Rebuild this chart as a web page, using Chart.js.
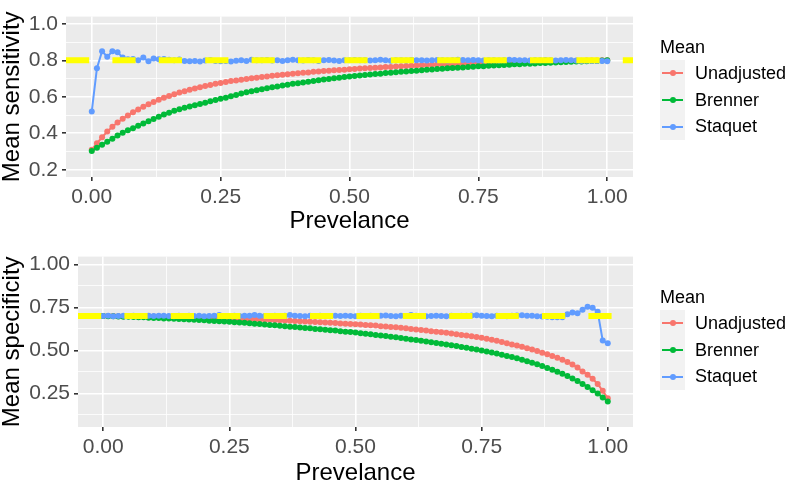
<!DOCTYPE html>
<html>
<head>
<meta charset="utf-8">
<script src="https://cdn.jsdelivr.net/npm/chart.js@4/dist/chart.umd.min.js"></script>
<style>
  html, body { margin: 0; padding: 0; background: #fff; overflow: hidden; }
  #wrap { position: relative; width: 787px; height: 482px; overflow: hidden; font-family: "Liberation Sans", Arial, sans-serif; }
  canvas { position: absolute; left: 0; }
  .legend { position: absolute; left: 660px; }
  .legend .title { font-size: 18px; color: #000; height: 26px; line-height: 26px; }
  .legend .row { position: relative; height: 26.7px; }
  .legend .key { position: absolute; left: 0; top: 0; width: 25px; height: 26.7px; background: #F2F2F2; }
  .legend .key .ln { position: absolute; left: 2px; width: 21px; top: 12.4px; height: 2px; }
  .legend .key .dt { position: absolute; left: 9.5px; top: 10.4px; width: 6px; height: 6px; border-radius: 50%; }
  .legend .lab { position: absolute; left: 35px; top: 0; height: 26.7px; line-height: 26.7px; font-size: 18px; color: #000; white-space: nowrap; }
</style>
</head>
<body>
<div id="wrap">
  <canvas id="sens" width="787" height="240" style="top:0"></canvas>
  <canvas id="spec" width="787" height="260" style="top:240px"></canvas>
  <div class="legend" id="legSens" style="top:34px"></div>
  <div class="legend" id="legSpec" style="top:284px"></div>
</div>
<script>
// prevalence grid (x values)
const PREVALENCE = [
  0.00, 0.01, 0.02, 0.03, 0.04, 0.05, 0.06, 0.07, 0.08, 0.09,
  0.10, 0.11, 0.12, 0.13, 0.14, 0.15, 0.16, 0.17, 0.18, 0.19,
  0.20, 0.21, 0.22, 0.23, 0.24, 0.25, 0.26, 0.27, 0.28, 0.29,
  0.30, 0.31, 0.32, 0.33, 0.34, 0.35, 0.36, 0.37, 0.38, 0.39,
  0.40, 0.41, 0.42, 0.43, 0.44, 0.45, 0.46, 0.47, 0.48, 0.49,
  0.50, 0.51, 0.52, 0.53, 0.54, 0.55, 0.56, 0.57, 0.58, 0.59,
  0.60, 0.61, 0.62, 0.63, 0.64, 0.65, 0.66, 0.67, 0.68, 0.69,
  0.70, 0.71, 0.72, 0.73, 0.74, 0.75, 0.76, 0.77, 0.78, 0.79,
  0.80, 0.81, 0.82, 0.83, 0.84, 0.85, 0.86, 0.87, 0.88, 0.89,
  0.90, 0.91, 0.92, 0.93, 0.94, 0.95, 0.96, 0.97, 0.98, 0.99,
  1.00
];

// mean sensitivity
const SENS_UNADJUSTED = [
  0.310, 0.345, 0.378, 0.409, 0.436, 0.459, 0.479, 0.498, 0.515, 0.531,
  0.545, 0.559, 0.572, 0.584, 0.595, 0.605, 0.614, 0.623, 0.631, 0.639,
  0.646, 0.653, 0.659, 0.665, 0.671, 0.676, 0.681, 0.686, 0.690, 0.694,
  0.698, 0.702, 0.705, 0.709, 0.712, 0.715, 0.718, 0.721, 0.724, 0.727,
  0.729, 0.732, 0.734, 0.737, 0.739, 0.741, 0.743, 0.745, 0.747, 0.749,
  0.751, 0.753, 0.755, 0.756, 0.758, 0.760, 0.761, 0.763, 0.764, 0.766,
  0.767, 0.769, 0.770, 0.772, 0.773, 0.774, 0.776, 0.777, 0.778, 0.779,
  0.780, 0.781, 0.782, 0.783, 0.784, 0.785, 0.786, 0.787, 0.788, 0.789,
  0.790, 0.790, 0.791, 0.792, 0.793, 0.793, 0.794, 0.795, 0.795, 0.796,
  0.796, 0.797, 0.797, 0.798, 0.798, 0.798, 0.799, 0.799, 0.799, 0.800,
  0.800
];
const SENS_BRENNER = [
  0.303, 0.320, 0.337, 0.354, 0.370, 0.387, 0.403, 0.416, 0.428, 0.441,
  0.453, 0.466, 0.478, 0.490, 0.503, 0.513, 0.523, 0.532, 0.540, 0.547,
  0.554, 0.561, 0.568, 0.575, 0.582, 0.589, 0.595, 0.603, 0.610, 0.618,
  0.625, 0.631, 0.636, 0.642, 0.647, 0.652, 0.657, 0.662, 0.666, 0.671,
  0.675, 0.679, 0.683, 0.687, 0.691, 0.695, 0.698, 0.702, 0.705, 0.708,
  0.711, 0.714, 0.717, 0.720, 0.722, 0.725, 0.727, 0.730, 0.732, 0.735,
  0.737, 0.739, 0.741, 0.743, 0.746, 0.748, 0.750, 0.752, 0.754, 0.756,
  0.758, 0.760, 0.761, 0.763, 0.765, 0.767, 0.768, 0.770, 0.772, 0.773,
  0.775, 0.776, 0.778, 0.779, 0.781, 0.782, 0.783, 0.785, 0.786, 0.787,
  0.788, 0.789, 0.791, 0.792, 0.793, 0.794, 0.795, 0.796, 0.797, 0.799,
  0.800
];
const SENS_STAQUET = [
  0.520, 0.757, 0.850, 0.820, 0.850, 0.845, 0.815, 0.806, 0.808, 0.800,
  0.815, 0.795, 0.810, 0.806, 0.808, 0.803, 0.800, 0.804, 0.797, 0.795,
  0.796, 0.794, 0.799, 0.802, 0.797, 0.795, 0.796, 0.794, 0.798, 0.800,
  0.797, 0.803, 0.801, 0.800, 0.802, 0.799, 0.801, 0.796, 0.800, 0.803,
  0.801, 0.799, 0.802, 0.800, 0.797, 0.800, 0.802, 0.799, 0.797, 0.801,
  0.800, 0.802, 0.801, 0.800, 0.799, 0.801, 0.803, 0.800, 0.798, 0.801,
  0.800, 0.799, 0.802, 0.800, 0.801, 0.799, 0.800, 0.802, 0.800, 0.799,
  0.801, 0.803, 0.802, 0.801, 0.802, 0.800, 0.799, 0.801, 0.800, 0.799,
  0.801, 0.803, 0.802, 0.801, 0.800, 0.799, 0.800, 0.801, 0.802, 0.801,
  0.799, 0.800, 0.802, 0.801, 0.799, 0.797, 0.798, 0.797, 0.796, 0.797,
  0.795
];

// mean specificity
const SPEC_UNADJUSTED = [
  0.700, 0.700, 0.700, 0.699, 0.699, 0.699, 0.698, 0.698, 0.698, 0.697,
  0.697, 0.696, 0.695, 0.695, 0.694, 0.693, 0.692, 0.691, 0.691, 0.690,
  0.689, 0.688, 0.687, 0.687, 0.686, 0.685, 0.684, 0.684, 0.683, 0.682,
  0.681, 0.680, 0.679, 0.678, 0.677, 0.675, 0.674, 0.672, 0.671, 0.669,
  0.668, 0.667, 0.665, 0.664, 0.662, 0.660, 0.659, 0.657, 0.655, 0.654,
  0.652, 0.650, 0.648, 0.646, 0.644, 0.641, 0.639, 0.636, 0.634, 0.631,
  0.628, 0.625, 0.622, 0.619, 0.616, 0.612, 0.609, 0.606, 0.602, 0.598,
  0.594, 0.590, 0.586, 0.582, 0.578, 0.574, 0.568, 0.562, 0.556, 0.549,
  0.542, 0.535, 0.528, 0.521, 0.513, 0.505, 0.496, 0.487, 0.478, 0.468,
  0.458, 0.446, 0.433, 0.418, 0.400, 0.378, 0.358, 0.335, 0.305, 0.265,
  0.222
];
const SPEC_BRENNER = [
  0.700, 0.699, 0.698, 0.697, 0.696, 0.695, 0.694, 0.693, 0.692, 0.690,
  0.689, 0.688, 0.686, 0.685, 0.684, 0.682, 0.681, 0.679, 0.678, 0.676,
  0.675, 0.673, 0.671, 0.670, 0.668, 0.666, 0.664, 0.662, 0.660, 0.658,
  0.655, 0.653, 0.651, 0.648, 0.646, 0.643, 0.641, 0.638, 0.636, 0.633,
  0.630, 0.628, 0.625, 0.623, 0.620, 0.617, 0.615, 0.612, 0.609, 0.607,
  0.604, 0.600, 0.597, 0.594, 0.590, 0.587, 0.583, 0.580, 0.576, 0.572,
  0.568, 0.564, 0.560, 0.556, 0.552, 0.548, 0.543, 0.539, 0.534, 0.530,
  0.525, 0.520, 0.515, 0.510, 0.505, 0.500, 0.494, 0.488, 0.482, 0.475,
  0.468, 0.461, 0.454, 0.446, 0.437, 0.428, 0.419, 0.409, 0.398, 0.387,
  0.376, 0.364, 0.351, 0.337, 0.322, 0.305, 0.288, 0.269, 0.249, 0.227,
  0.203
];
const SPEC_STAQUET = [
  0.700, 0.701, 0.699, 0.700, 0.701, 0.700, 0.702, 0.699, 0.700, 0.701,
  0.700, 0.702, 0.701, 0.700, 0.699, 0.701, 0.700, 0.702, 0.700, 0.701,
  0.699, 0.700, 0.701, 0.706, 0.700, 0.699, 0.701, 0.700, 0.702, 0.701,
  0.705, 0.701, 0.700, 0.699, 0.701, 0.700, 0.702, 0.706, 0.701, 0.700,
  0.699, 0.701, 0.700, 0.702, 0.700, 0.699, 0.701, 0.700, 0.701, 0.700,
  0.699, 0.701, 0.700, 0.702, 0.700, 0.701, 0.703, 0.700, 0.699, 0.701,
  0.700, 0.705, 0.701, 0.700, 0.699, 0.700, 0.701, 0.700, 0.699, 0.701,
  0.700, 0.702, 0.701, 0.703, 0.704, 0.702, 0.700, 0.699, 0.701, 0.700,
  0.699, 0.701, 0.703, 0.704, 0.702, 0.701, 0.698, 0.697, 0.695, 0.693,
  0.693, 0.692, 0.710, 0.720, 0.716, 0.736, 0.754, 0.748, 0.724, 0.557,
  0.541
];

// reference values (dashed yellow lines)
const TRUE_SENS = 0.8;
const TRUE_SPEC = 0.7;

const SERIES_NAMES = ['Unadjusted', 'Brenner', 'Staquet'];
const SERIES_COLORS = ['#F8766D', '#00BA38', '#619CFF'];

// axes
const X_MIN = -0.05, X_MAX = 1.05;
const X_TICKS = [0, 0.25, 0.5, 0.75, 1];
const X_TICK_LABELS = ['0.00', '0.25', '0.50', '0.75', '1.00'];
const X_MINOR = [0.125, 0.375, 0.625, 0.875];

const SENS_Y_MIN = 0.16, SENS_Y_MAX = 1.04;
const SENS_Y_TICKS = [0.2, 0.4, 0.6, 0.8, 1.0];
const SENS_Y_TICK_LABELS = ['0.2', '0.4', '0.6', '0.8', '1.0'];
const SENS_Y_MINOR = [0.3, 0.5, 0.7, 0.9];

const SPEC_Y_MIN = 0.055, SPEC_Y_MAX = 1.045;
const SPEC_Y_TICKS = [0.25, 0.5, 0.75, 1.0];
const SPEC_Y_TICK_LABELS = ['0.25', '0.50', '0.75', '1.00'];
const SPEC_Y_MINOR = [0.125, 0.375, 0.625, 0.875];

const FONT = '"Liberation Sans", Arial, sans-serif';

// grey panel behind the grid
const panelBg = {
  id: 'panelBg',
  beforeDraw(chart) {
    const a = chart.chartArea, ctx = chart.ctx;
    ctx.save();
    ctx.fillStyle = '#EBEBEB';
    ctx.fillRect(a.left, a.top, a.right - a.left, a.bottom - a.top);
    ctx.restore();
  }
};

function isMajor(list, v) {
  return list.some(t => Math.abs(t - v) < 1e-9);
}

function makePanel(canvas, o) {
  const pts = arr => PREVALENCE.map((x, i) => ({ x: x, y: arr[i] }));
  const datasets = [
    {
      // first dataset is drawn last -> on top
      data: [{ x: X_MIN, y: o.ref }, { x: X_MAX, y: o.ref }],
      borderColor: '#FFFF00', borderWidth: 6, borderDash: [23.2, 23.2],
      borderCapStyle: 'butt', pointRadius: 0
    }
  ];
  for (let i = o.series.length - 1; i >= 0; i--) {
    datasets.push({
      label: SERIES_NAMES[i],
      data: pts(o.series[i]),
      borderColor: SERIES_COLORS[i], backgroundColor: SERIES_COLORS[i],
      borderWidth: 2, pointRadius: 3, pointBorderWidth: 0,
      tension: 0
    });
  }

  return new Chart(canvas.getContext('2d'), {
    type: 'line',
    data: { datasets },
    plugins: [panelBg],
    options: {
      responsive: false,
      animation: false,
      events: [],
      layout: { padding: { left: 0, right: o.right, top: o.top, bottom: 0 } },
      plugins: { legend: { display: false }, tooltip: { enabled: false } },
      scales: {
        x: {
          type: 'linear', min: X_MIN, max: X_MAX,
          afterBuildTicks: s => { s.ticks = X_TICKS.concat(X_MINOR).sort((a, b) => a - b).map(v => ({ value: v })); },
          afterFit: s => { s.height = o.xHeight; },
          border: { display: false },
          grid: {
            color: '#FFFFFF',
            lineWidth: c => isMajor(X_TICKS, c.tick.value) ? 1.6 : 0.8,
            tickColor: c => isMajor(X_TICKS, c.tick.value) ? '#333333' : 'rgba(0,0,0,0)',
            tickLength: 4, drawTicks: true
          },
          ticks: {
            autoSkip: false, maxRotation: 0, padding: o.xTickPad,
            color: '#4D4D4D', font: { family: FONT, size: 21 },
            callback: v => { const k = X_TICKS.findIndex(t => Math.abs(t - v) < 1e-9); return k < 0 ? '' : X_TICK_LABELS[k]; }
          },
          title: {
            display: true, text: 'Prevelance', color: '#000',
            font: { family: FONT, size: 24, lineHeight: 1.0 },
            padding: { top: 0, bottom: o.xTitlePad }
          }
        },
        y: {
          type: 'linear', min: o.yMin, max: o.yMax,
          afterBuildTicks: s => { s.ticks = o.yTicks.concat(o.yMinor).sort((a, b) => a - b).map(v => ({ value: v })); },
          afterFit: s => { s.width = o.left; },
          border: { display: false },
          grid: {
            color: '#FFFFFF',
            lineWidth: c => isMajor(o.yTicks, c.tick.value) ? 1.6 : 0.8,
            tickColor: c => isMajor(o.yTicks, c.tick.value) ? '#333333' : 'rgba(0,0,0,0)',
            tickLength: 4, drawTicks: true
          },
          ticks: {
            autoSkip: false, padding: 4,
            color: '#4D4D4D', font: { family: FONT, size: 21 },
            callback: v => { const k = o.yTicks.findIndex(t => Math.abs(t - v) < 1e-9); return k < 0 ? '' : o.yLabels[k]; }
          },
          title: {
            display: true, text: o.yTitle, color: '#000',
            font: { family: FONT, size: 24, lineHeight: 1.0 },
            padding: { top: 0, bottom: 0 }
          }
        }
      }
    }
  });
}

function makeLegend(el) {
  let html = '<div class="title">Mean</div>';
  SERIES_NAMES.forEach((name, i) => {
    html += '<div class="row"><div class="key"><div class="ln" style="background:' + SERIES_COLORS[i] +
      '"></div><div class="dt" style="background:' + SERIES_COLORS[i] + '"></div></div>' +
      '<div class="lab">' + name + '</div></div>';
  });
  el.innerHTML = html;
}

makePanel(document.getElementById('sens'), {
  series: [SENS_UNADJUSTED, SENS_BRENNER, SENS_STAQUET], ref: TRUE_SENS,
  yMin: SENS_Y_MIN, yMax: SENS_Y_MAX, yTicks: SENS_Y_TICKS, yLabels: SENS_Y_TICK_LABELS, yMinor: SENS_Y_MINOR,
  yTitle: 'Mean sensitivity', left: 66, right: 154, top: 0, xHeight: 63, xTickPad: 4, xTitlePad: 7
});
makePanel(document.getElementById('spec'), {
  series: [SPEC_UNADJUSTED, SPEC_BRENNER, SPEC_STAQUET], ref: TRUE_SPEC,
  yMin: SPEC_Y_MIN, yMax: SPEC_Y_MAX, yTicks: SPEC_Y_TICKS, yLabels: SPEC_Y_TICK_LABELS, yMinor: SPEC_Y_MINOR,
  yTitle: 'Mean specificity', left: 78, right: 154, top: 11, xHeight: 73, xTickPad: 4, xTitlePad: 15
});
makeLegend(document.getElementById('legSens'));
makeLegend(document.getElementById('legSpec'));
</script>
</body>
</html>
